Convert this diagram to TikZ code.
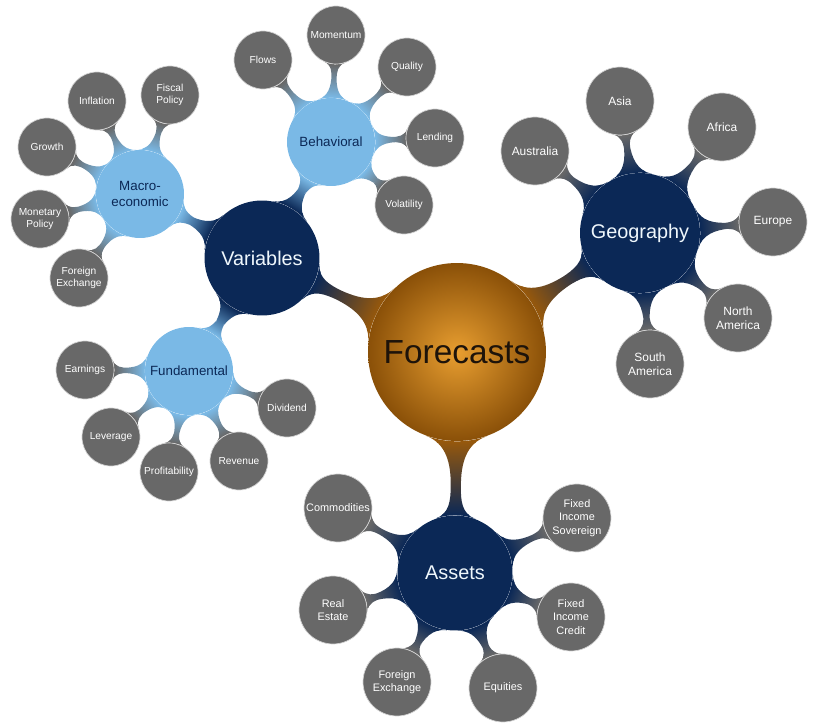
\documentclass[tikz,border=0pt]{standalone}
\usepackage{fontspec}
\setmainfont{Liberation Sans}
\usetikzlibrary{mindmap,backgrounds}
\definecolor{navy}{RGB}{11,40,86}
\definecolor{skyblue}{RGB}{122,185,230}
\definecolor{leafgrey}{RGB}{104,104,104}
\definecolor{ballin}{RGB}{232,158,48}
\definecolor{ballout}{RGB}{138,80,8}
\definecolor{bronze}{RGB}{150,88,12}
\tikzset{
  root/.style={circle,inner sep=0pt,minimum size=3.56cm,inner color=ballin,outer color=ballout,
    text=black!85!brown,font=\fontsize{19}{22}\selectfont},
  topic/.style={circle,inner sep=0pt,minimum size=2.3cm,fill=navy,text=white!88!skyblue,
    font=\fontsize{11.3}{13}\selectfont},
  subtopic/.style={circle,inner sep=0pt,minimum size=1.76cm,fill=skyblue,text=navy,align=center,
    font=\fontsize{7.6}{9}\selectfont},
  leaf/.style={circle,inner sep=0pt,minimum size=1.16cm,fill=leafgrey,draw=white!70!leafgrey,
    line width=0.4pt,text=white,align=center,font=\fontsize{5.8}{7}\selectfont},
  bigleaf/.style={leaf,minimum size=1.36cm,font=\fontsize{6.8}{8.2}\selectfont},
  link/.style 2 args={circle connection bar switch color=from (#1) to (#2)}
}
\begin{document}
\begin{tikzpicture}[x=0.02cm,y=-0.02cm]
  \useasboundingbox (0,0) rectangle (816,726);

  % centre and main topics
  \node[root] (forecasts) at (457,352) {Forecasts};
  \node[topic] (variables) at (262,258) {Variables};
  \node[topic,minimum size=2.4cm] (geography) at (640,233) {Geography};
  \node[topic] (assets) at (455,573) {Assets};

  % variable groups
  \node[subtopic] (macro) at (140,194) {Macro-\\economic};
  \node[subtopic] (behavioral) at (331,142) {Behavioral};
  \node[subtopic] (fundamental) at (189,371) {Fundamental};

  % leaves
  \foreach \name/\pos/\txt in {fiscal/{170,95}/{Fiscal\\Policy}, inflation/{97,101}/Inflation,
      growth/{47,147}/Growth, monetary/{40,219}/{Monetary\\Policy}, mfx/{79,278}/{Foreign\\Exchange}}
    \node[leaf] (\name) at (\pos) {\txt};
  \foreach \name/\pos/\txt in {flows/{263,60}/Flows, momentum/{336,35}/Momentum,
      quality/{407,67}/Quality, lending/{435,138}/Lending, volatility/{404,205}/Volatility}
    \node[leaf] (\name) at (\pos) {\txt};
  \foreach \name/\pos/\txt in {earnings/{85,370}/Earnings, leverage/{111,437}/Leverage,
      profit/{169,472}/Profitability, revenue/{239,461}/Revenue, dividend/{287,408}/Dividend}
    \node[leaf] (\name) at (\pos) {\txt};
  \foreach \name/\pos/\txt in {asia/{620,101}/Asia, africa/{722,127}/Africa,
      australia/{535,151}/Australia, europe/{773,222}/Europe,
      namerica/{738,318}/{North\\America}, samerica/{650,364}/{South\\America}}
    \node[bigleaf] (\name) at (\pos) {\txt};
  \foreach \name/\pos/\txt in {commod/{338,508}/Commodities, sovereign/{577,518}/{Fixed\\Income\\Sovereign},
      realestate/{333,610}/{Real\\Estate}, credit/{571,617}/{Fixed\\Income\\Credit},
      afx/{397,682}/{Foreign\\Exchange}, equities/{503,688}/Equities}
    \node[bigleaf,font=\fontsize{6.2}{7.6}\selectfont] (\name) at (\pos) {\txt};

  % connections
  \begin{pgfonlayer}{background}
    \foreach \b in {variables,geography,assets}
      \path (forecasts) to[link={bronze}{navy}] (\b);
    \foreach \b in {macro,behavioral,fundamental}
      \path (variables) to[link={navy}{skyblue}] (\b);
    \foreach \b in {fiscal,inflation,growth,monetary,mfx}
      \path (macro) to[link={skyblue}{leafgrey}] (\b);
    \foreach \b in {flows,momentum,quality,lending,volatility}
      \path (behavioral) to[link={skyblue}{leafgrey}] (\b);
    \foreach \b in {earnings,leverage,profit,revenue,dividend}
      \path (fundamental) to[link={skyblue}{leafgrey}] (\b);
    \foreach \b in {asia,africa,australia,europe,namerica,samerica}
      \path (geography) to[link={navy}{leafgrey}] (\b);
    \foreach \b in {commod,sovereign,realestate,credit,afx,equities}
      \path (assets) to[link={navy}{leafgrey}] (\b);
  \end{pgfonlayer}
\end{tikzpicture}
\end{document}
